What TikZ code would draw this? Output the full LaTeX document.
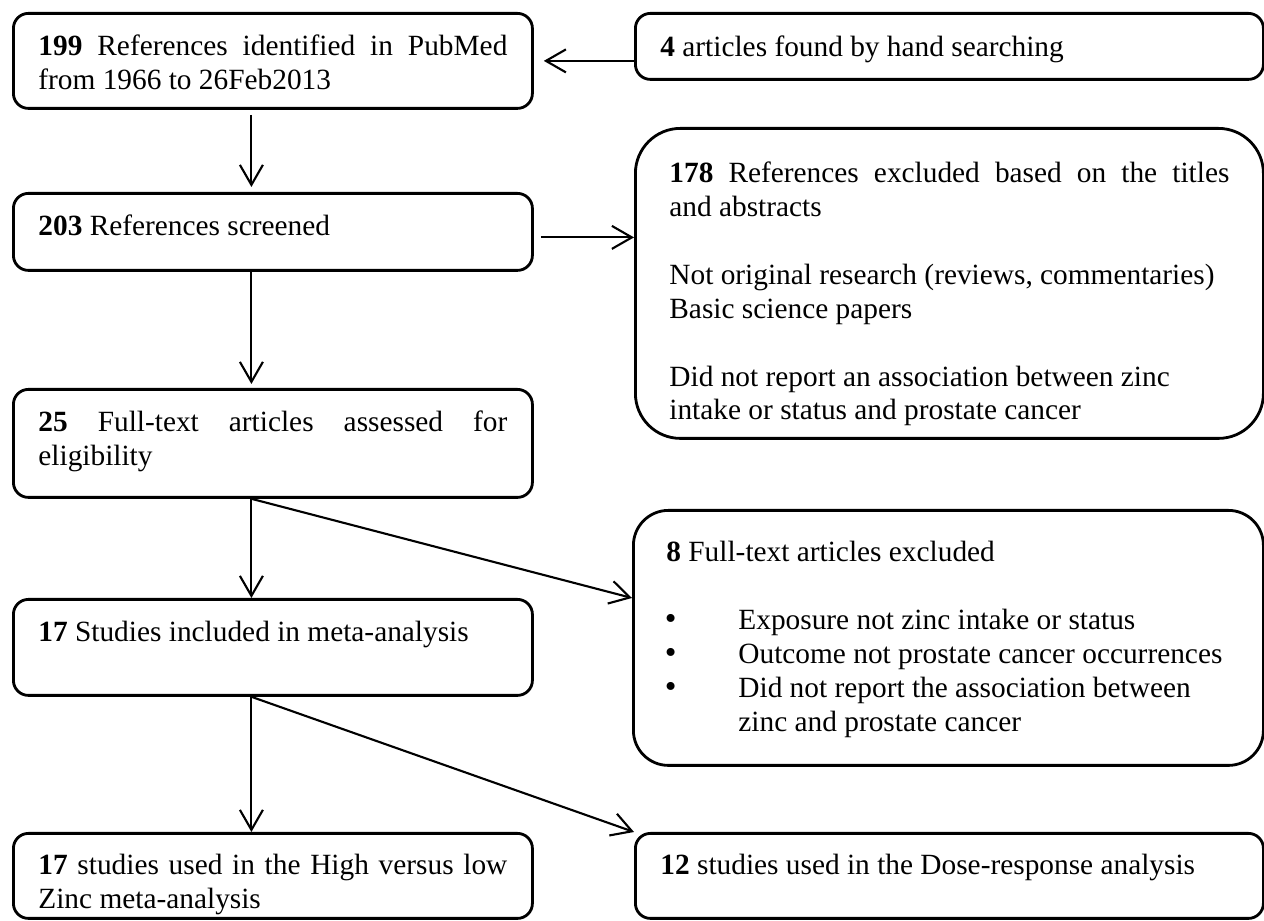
\documentclass[tikz,border=0pt]{standalone}
\usepackage{fontspec}
\setmainfont{Liberation Serif}
\usetikzlibrary{arrows.meta}
\newcommand{\excl}{\hspace*{-0.03cm}\makebox[1.47cm][l]{\fontsize{19}{19.3}\selectfont\textbullet}}
\begin{document}
\begin{tikzpicture}[>={Straight Barb[length=0.4cm,width=0.46cm]}]
        \useasboundingbox (0,0) rectangle (25.28,18.42);

        \begin{scope}[every node/.style={draw,line width=1.6pt,rounded corners=0.3cm,anchor=north west,
            align=justify,inner xsep=0.5cm,inner ysep=0pt,text width=9.38cm,text height=0.84cm,
            font=\fontsize{16.7}{19.3}\selectfont}]
            \node[text depth=1.06cm] (pubmed) at (0.24,18.18)
                {\textbf{199} References identified in PubMed\linebreak from 1966 to 26Feb2013};
            \node[text width=11.56cm,text height=0.86cm,text depth=0.46cm] (hand) at (12.68,18.18)
                {\textbf{4} articles found by hand searching};
            \node[text depth=0.70cm] (screened) at (0.24,14.58) {\textbf{203} References screened};
            \node[inner xsep=0.68cm,text width=11.2cm,text height=1.08cm,text depth=5.12cm,
                rounded corners=0.9cm] (excl1) at (12.68,15.88)
                {\textbf{178} References excluded based on the titles\linebreak and abstracts\\[0.68cm]
                Not original research (reviews, commentaries)\\
                Basic science papers\\[0.68cm]
                Did not report an association between zinc\\
                intake or status and prostate cancer};
            \node[text depth=1.32cm] (fulltext) at (0.24,10.66)
                {\textbf{25} Full-text articles assessed for\linebreak eligibility};
            \node[inner xsep=0.66cm,text width=11.28cm,text height=1.02cm,text depth=4.08cm,
                rounded corners=0.7cm] (excl2) at (12.64,8.24)
                {\textbf{8} Full-text articles excluded\\[0.68cm]
                \excl Exposure not zinc intake or status\\
                \excl Outcome not prostate cancer occurrences\\
                \excl Did not report the association between\\
                \hspace*{1.44cm}zinc and prostate cancer};
            \node[text depth=1.08cm] (meta) at (0.24,6.46) {\textbf{17} Studies included in meta-analysis};
            \node[text height=0.82cm,text depth=0.88cm] (highlow) at (0.24,1.78)
                {\textbf{17} studies used in the High versus low\linebreak Zinc meta-analysis};
            \node[text width=11.56cm,text height=0.82cm,text depth=0.88cm] (dose) at (12.68,1.78)
                {\textbf{12} studies used in the Dose-response analysis};
        \end{scope}

        \coordinate (scr) at ([yshift=-0.11cm]screened.east);

        \begin{scope}[every path/.style={->,line width=1.2pt}]
            \path (hand.west |- pubmed.east) edge[shorten >=0.2cm] (pubmed.east);
            \path ([xshift=-0.43cm]pubmed.south) edge[shorten <=0.1cm,shorten >=0.1cm] ([xshift=-0.43cm]screened.north);
            \path (scr) edge[shorten <=0.14cm] (scr -| excl1.west);
            \path ([xshift=-0.43cm]screened.south) edge[shorten >=0.08cm] ([xshift=-0.43cm]fulltext.north);
            \path ([xshift=-0.43cm]fulltext.south) edge ([xshift=-0.43cm]meta.north);
            \path ([xshift=-0.43cm]fulltext.south) edge (excl2.west |- meta.north);
            \path ([xshift=-0.43cm]meta.south) edge ([xshift=-0.43cm]highlow.north);
            \path ([xshift=-0.43cm]meta.south) edge (dose.north west);
        \end{scope}
\end{tikzpicture}
\end{document}
